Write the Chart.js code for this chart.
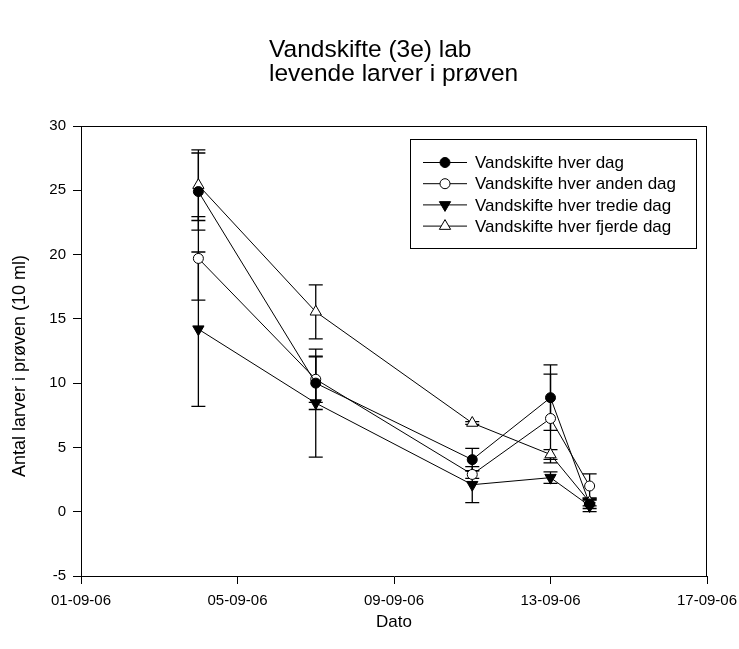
<!DOCTYPE html>
<html>
<head>
<meta charset="utf-8">
<script src="https://cdn.jsdelivr.net/npm/chart.js@4.4.1/dist/chart.umd.min.js"></script>
<style>
  html, body { margin: 0; padding: 0; background: #fff; }
  #wrap { width: 739px; height: 649px; }
</style>
</head>
<body>
<div id="wrap"><canvas id="myChart" width="739" height="649"></canvas></div>
<script>
const dates = ['04-09-06', '07-09-06', '11-09-06', '13-09-06', '14-09-06'];

const hverDag = [24.9, 10.0, 4.05, 8.87, 0.6];
const hverDagErr = [3.0, 2.05, 0.87, 2.55, 0.35];
const andenDag = [19.7, 10.3, 2.9, 7.25, 2.0];
const andenDagErr = [3.25, 1.8, 0.3, 3.45, 0.95];
const tredieDag = [14.2, 8.45, 2.1, 2.65, 0.45];
const tredieDagErr = [6.0, 4.2, 1.4, 0.45, 0.45];
const fjerdeDag = [25.4, 15.55, 6.9, 4.45, 0.75];
const fjerdeDagErr = [2.75, 2.1, 0.1, 0.38, 0.3];

const seriesNames = ['Vandskifte hver dag', 'Vandskifte hver anden dag',
                     'Vandskifte hver tredie dag', 'Vandskifte hver fjerde dag'];
const xTicks = ['01-09-06', '05-09-06', '09-09-06', '13-09-06', '17-09-06'];

const FONT = "'Liberation Sans', Arial, sans-serif";

// day of september from "dd-mm-yy"
function toDay(s) {
    return parseInt(s.split('-')[0], 10);
}
function fromDay(d) {
    let hit = xTicks.find(t => toDay(t) == d);
    return hit ? hit : '';
}

function points(vals) {
    return vals.map((v, i) => ({ x: toDay(dates[i]), y: v }));
}

function makeSet(label, vals, errs, style, fill, rot, r) {
    return {
        label: label,
        data: points(vals),
        errors: errs,
        borderColor: '#000',
        borderWidth: 1,
        pointStyle: style,
        pointRotation: rot,
        pointRadius: r,
        pointBorderWidth: 1,
        pointBorderColor: '#000',
        pointBackgroundColor: fill,
        tension: 0,
        fill: false
    };
}

const datasets = [
    makeSet(seriesNames[0], hverDag, hverDagErr, 'circle', '#000', 0, 5),
    makeSet(seriesNames[1], andenDag, andenDagErr, 'circle', '#fff', 0, 5),
    makeSet(seriesNames[2], tredieDag, tredieDagErr, 'triangle', '#000', 180, 6.5),
    makeSet(seriesNames[3], fjerdeDag, fjerdeDagErr, 'triangle', '#fff', 0, 6.5)
];

const errorBars = {
    id: 'errorBars',
    beforeDatasetsDraw(chart) {
        let ctx = chart.ctx;
        let x = chart.scales.x, y = chart.scales.y;
        ctx.save();
        ctx.strokeStyle = '#000';
        ctx.lineWidth = 1.3;
        chart.data.datasets.forEach(ds => {
            ds.data.forEach((p, i) => {
                let e = ds.errors[i];
                let px = x.getPixelForValue(p.x);
                let top = y.getPixelForValue(p.y + e);
                let bot = y.getPixelForValue(p.y - e);
                ctx.beginPath();
                ctx.moveTo(px, top);
                ctx.lineTo(px, bot);
                ctx.moveTo(px - 7, top);
                ctx.lineTo(px + 7, top);
                ctx.moveTo(px - 7, bot);
                ctx.lineTo(px + 7, bot);
                ctx.stroke();
            });
        });
        ctx.restore();
    }
};

const extras = {
    id: 'extras',
    afterDraw(chart) {
        let ctx = chart.ctx;
        let a = chart.chartArea;
        ctx.save();
        // top and right frame
        ctx.strokeStyle = '#000';
        ctx.lineWidth = 1;
        ctx.beginPath();
        ctx.moveTo(a.left, a.top + 0.5);
        ctx.lineTo(a.right, a.top + 0.5);
        ctx.moveTo(a.right - 0.5, a.top);
        ctx.lineTo(a.right - 0.5, a.bottom);
        ctx.stroke();

        // title
        ctx.fillStyle = '#000';
        ctx.font = '24.5px ' + FONT;
        ctx.textAlign = 'left';
        ctx.textBaseline = 'alphabetic';
        ctx.fillText('Vandskifte (3e) lab', 269, 57);
        ctx.fillText('levende larver i prøven', 269, 81);

        // y axis title
        ctx.save();
        ctx.translate(25, 366);
        ctx.rotate(-Math.PI / 2);
        ctx.font = '18px ' + FONT;
        ctx.textAlign = 'center';
        ctx.textBaseline = 'alphabetic';
        ctx.fillText('Antal larver i prøven (10 ml)', 0, 0);
        ctx.restore();

        // legend
        ctx.lineWidth = 1;
        ctx.strokeRect(410.5, 139.5, 286, 109);
        ctx.font = '17px ' + FONT;
        ctx.textBaseline = 'middle';
        chart.data.datasets.forEach((ds, i) => {
            let ly = 162.5 + i * 21.2;
            ctx.beginPath();
            ctx.moveTo(423, ly);
            ctx.lineTo(467, ly);
            ctx.stroke();
            ctx.fillStyle = ds.pointBackgroundColor;
            ctx.beginPath();
            Chart.helpers.drawPoint(ctx, {
                pointStyle: ds.pointStyle,
                rotation: ds.pointRotation,
                radius: ds.pointRadius,
                borderWidth: 1
            }, 445, ly);
            ctx.fillStyle = '#000';
            ctx.fillText(ds.label, 475, ly + 1);
        });
        ctx.restore();
    }
};

const ctx = document.getElementById('myChart');

new Chart(ctx, {
    type: 'line',
    data: { datasets: datasets },
    options: {
        responsive: false,
        animation: false,
        layout: { padding: { left: 0, right: 32, top: 126, bottom: 0 } },
        plugins: {
            legend: { display: false },
            tooltip: { enabled: false }
        },
        scales: {
            x: {
                type: 'linear',
                min: toDay(xTicks[0]),
                max: toDay(xTicks[xTicks.length - 1]),
                afterBuildTicks: s => { s.ticks = xTicks.map(t => ({ value: toDay(t) })); },
                afterFit: s => {
                    s.height = 73;
                    s.paddingLeft = 0;
                    s.paddingRight = 0;
                },
                ticks: {
                    callback: v => fromDay(v),
                    color: '#000',
                    font: { family: FONT, size: 15 },
                    padding: 8,
                    maxRotation: 0,
                    autoSkip: false
                },
                grid: { drawOnChartArea: false, tickLength: 8, tickColor: '#000', tickWidth: 1 },
                border: { color: '#000', width: 1 },
                title: {
                    display: true,
                    text: 'Dato',
                    color: '#000',
                    font: { family: FONT, size: 17 },
                    padding: { top: 0, bottom: 16 }
                }
            },
            y: {
                min: -5,
                max: 30,
                afterFit: s => {
                    s.width = 81;
                    s.paddingTop = 0;
                    s.paddingBottom = 0;
                },
                ticks: {
                    stepSize: 5,
                    color: '#000',
                    font: { family: FONT, size: 15 },
                    padding: 7
                },
                grid: { drawOnChartArea: false, tickLength: 8, tickColor: '#000', tickWidth: 1 },
                border: { color: '#000', width: 1 }
            }
        }
    },
    plugins: [errorBars, extras]
});
</script>
</body>
</html>
